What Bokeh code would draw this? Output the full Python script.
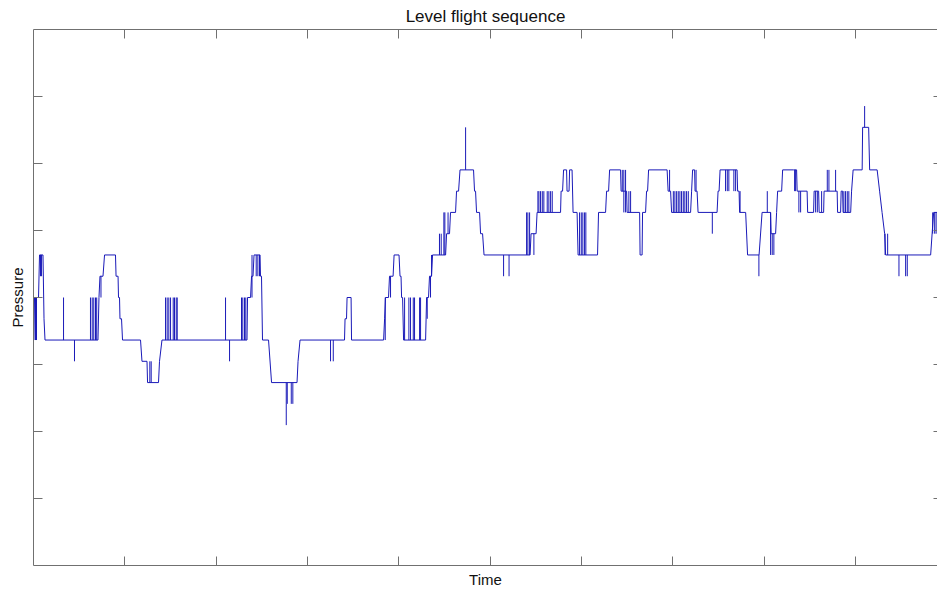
import numpy as np
from bokeh.plotting import figure
from bokeh.models import Range1d, LinearAxis, FixedTicker, CustomJSTickFormatter
from bokeh.embed import file_html
from bokeh.resources import INLINE

# ---------------- data ----------------
# Time axis: 0 .. 990 samples (ticks every 100); pressure in sensor counts
X_START, X_END = 0, 990
Y_START, Y_END = -10.6, 14.6

# main trace: breakpoints of the quantised pressure signal
time_path = [0, 1.1, 5.5, 6.6, 10.4, 11.5, 12.6, 70.6, 71.7, 72.8, 76.1, 77.8, 89.8, 90.4,
             92.6, 93.1, 94.2, 94.7, 96.4, 97.5, 117.2, 118.8, 124.3, 124.9, 136.9, 138.0,
             140.7, 233.8, 234.4, 237.7, 238.8, 240.4, 241.5, 248.1, 248.6, 249.7, 250.8,
             257.4, 260.7, 288.6, 289.7, 291.9, 340.6, 341.2, 342.8, 343.4, 347.8, 348.3,
             383.4, 384.5, 385.5, 388.8, 389.9, 393.8, 394.9, 400.3, 401.4, 402.5, 403.1,
             404.2, 405.3, 429.4, 430.5, 432.6, 433.7, 435.9, 437.0, 451.3, 452.4, 455.6,
             456.7, 462.2, 463.3, 465.5, 467.1, 481.9, 483.0, 484.1, 485.2, 488.5, 489.6,
             491.8, 493.4, 543.8, 544.9, 550.4, 551.5, 577.2, 577.8, 579.4, 580.5, 583.8,
             584.3, 586.5, 587.1, 589.8, 590.9, 595.3, 596.4, 617.7, 618.8, 626.5, 627.6,
             629.8, 630.9, 642.9, 643.5, 649.5, 650.1, 663.8, 664.3, 666.5, 667.0, 670.3,
             671.4, 672.5, 673.6, 693.9, 695.0, 697.7, 698.8, 719.6, 720.7, 721.8, 724.0,
             724.5, 726.7, 727.8, 748.6, 749.7, 750.8, 751.9, 770.5, 771.1, 772.7, 773.3,
             779.9, 782.0, 794.6, 797.9, 807.2, 807.8, 812.7, 813.8, 814.9, 819.3, 820.4,
             832.4, 835.7, 836.3, 847.2, 847.8, 854.3, 854.9, 859.8, 860.4, 865.3, 865.8,
             880.1, 880.6, 883.9, 884.5, 886.1, 886.6, 894.9, 895.9, 897.6, 907.5, 908.0,
             914.6, 915.7, 923.9, 926.6, 929.3, 932.1, 933.2, 982.5, 984.1, 985.8, 990.2]
pressure_path = [0, 2, 2, 4, 4, 1, 0, 0, 2, 3, 3, 4, 4, 3,
                 3, 2, 2, 1, 1, 0, 0, -1, -1, -2, -2, -1,
                 0, 0, 2, 2, 3, 3, 4, 4, 3, 3, 0,
                 0, -2, -2, -1, 0, 0, 1, 1, 2, 2, 0,
                 0, 1, 2, 2, 3, 3, 4, 4, 3, 3, 2,
                 2, 0, 0, 2, 2, 3, 3, 4, 4, 5, 5,
                 6, 6, 7, 7, 8, 8, 7, 7, 6, 6, 5,
                 5, 4, 4, 5, 5, 6, 6, 7, 7, 8, 8,
                 7, 7, 8, 8, 6, 6, 4, 4, 6, 6, 7,
                 7, 8, 8, 7, 7, 6, 6, 4, 4, 6, 6,
                 7, 7, 8, 8, 7, 7, 6, 6, 7, 8, 8,
                 7, 7, 6, 6, 7, 7, 8, 8, 7, 7, 6,
                 6, 4, 4, 6, 6, 5, 5, 6, 7, 7, 8,
                 8, 8, 7, 7, 6, 6, 7, 7, 6, 6, 7,
                 7, 6, 6, 7, 7, 6, 6, 7, 8, 8, 10,
                 10, 8, 8, 7, 6, 5, 4, 4, 5, 6, 6]

# single-sample noise spikes: time, lower level, upper level
spike_t = [0.5, 2.2, 3.3, 7.7, 8.8, 32.9, 44.9, 62.4, 64.3, 66.0, 67.9, 69.2, 73.9,
           127.4, 128.9, 144.6, 146.4, 148.2, 150.1, 153.0, 154.4, 156.3, 157.4,
           210.3, 214.7, 227.8, 229.2, 231.1, 232.5, 239.3, 243.9, 245.7, 247.5,
           276.8, 277.9, 282.3, 284.0, 325.3, 328.3, 385.2, 391.0,
           406.4, 411.1, 412.9, 415.9, 417.3, 422.8, 423.9, 431.2, 434.8, 435.9,
           444.6, 446.5, 449.4, 450.5, 454.0, 473.2, 514.8, 520.8,
           540.0, 541.4, 543.3, 548.0,
           552.4, 553.5, 555.3, 557.2, 558.9, 562.6, 564.4, 566.3, 568.1,
           598.0, 599.9, 601.6, 603.5, 604.9, 644.8, 646.5, 648.4, 652.0, 653.9, 696.6,
           700.7, 702.4, 704.3, 706.1, 707.9, 709.7, 711.6, 713.3, 715.2, 717.1,
           725.6, 743.4, 757.9, 759.8, 761.5, 767.0, 768.9, 773.8, 794.4,
           803.6, 807.2, 809.0, 810.8, 833.5, 834.6, 838.2, 840.1,
           856.5, 858.4, 863.1, 869.3, 871.1, 878.4, 887.5, 889.3, 891.2, 892.9,
           910.2, 932.6, 935.4, 947.8, 955.1, 956.9, 984.7, 986.9, 988.5]
spike_lo = [0, 0, 0, 3, 3, 0, -1, 0, 0, 0, 0, 0, 2,
            -2, -2, 0, 0, 0, 0, 0, 0, 0, 0,
            0, -1, 0, 0, 0, 0, 2, 3, 3, 3,
            -4, -3, -3, -3, -1, -1, 0, 2,
            0, 0, 0, 0, 0, 0, 0, 1, 2, 3,
            4, 4, 4, 4, 5, 8, 3, 3,
            4, 4, 4, 4,
            6, 6, 6, 6, 6, 6, 6, 6, 6,
            4, 4, 4, 4, 4, 7, 6, 6, 6, 6, 7,
            6, 6, 6, 6, 6, 6, 6, 6, 6, 6,
            7, 5, 7, 7, 7, 7, 7, 6, 3,
            6, 4, 4, 4, 7, 7, 6, 6,
            6, 6, 6, 7, 7, 7, 6, 6, 6, 6,
            10, 4, 4, 3, 3, 3, 5, 5, 5]
spike_hi = [2, 2, 2, 4, 4, 2, 0, 2, 2, 2, 2, 2, 3,
            -1, -1, 2, 2, 2, 2, 2, 2, 2, 2,
            2, 0, 2, 2, 2, 2, 4, 4, 4, 4,
            -2, -2, -2, -2, 0, 0, 2, 3,
            2, 2, 2, 2, 2, 2, 2, 2, 3, 4,
            5, 5, 6, 6, 6, 10, 4, 4,
            6, 6, 6, 5,
            7, 7, 7, 7, 7, 7, 7, 7, 7,
            6, 6, 6, 6, 6, 8, 8, 8, 7, 7, 8,
            7, 7, 7, 7, 7, 7, 7, 7, 7, 7,
            8, 6, 8, 8, 8, 8, 8, 7, 4,
            7, 6, 5, 5, 8, 8, 7, 7,
            7, 7, 7, 8, 8, 8, 7, 7, 7, 7,
            11, 5, 5, 4, 4, 4, 6, 6, 6]

assert len(time_path) == len(pressure_path)
assert len(spike_t) == len(spike_lo) == len(spike_hi)

x_ticks = list(range(100, 1000, 100))
y_ticks = list(np.linspace(Y_START, Y_END, 9)[1:-1])

AXIS_COL = "#707070"
LINE_COL = "#1a1ab8"
FONT = "Liberation Sans"

p = figure(width=937, height=594, output_backend="svg", toolbar_location=None,
           x_range=Range1d(X_START, X_END), y_range=Range1d(Y_START, Y_END),
           min_border_left=33, min_border_right=0, min_border_top=0, min_border_bottom=29,
           background_fill_color="white", border_fill_color="white")
p.outline_line_color = None
p.grid.visible = False

p.title.text = "Level flight sequence"
p.title.align = "center"
p.title.text_font = FONT
p.title.text_font_size = "17px"
p.title.text_font_style = "normal"
p.title.text_color = "#111111"
p.title.standoff = 8

empty = CustomJSTickFormatter(code="return ''")


def style_axis(ax, ticks, tick_len, line=True):
    ax.ticker = FixedTicker(ticks=ticks)
    ax.formatter = empty
    ax.major_tick_in = tick_len
    ax.major_tick_out = 0
    ax.minor_tick_in = 0
    ax.minor_tick_out = 0
    ax.major_label_text_font_size = "0px"
    ax.major_label_standoff = 0
    ax.major_tick_line_color = AXIS_COL
    ax.axis_line_color = AXIS_COL if line else None
    ax.axis_label_text_font = FONT
    ax.axis_label_text_font_size = "15px"
    ax.axis_label_text_font_style = "normal"
    ax.axis_label_text_color = "#111111"


style_axis(p.xaxis[0], x_ticks, 9)
style_axis(p.yaxis[0], y_ticks, 9)
p.xaxis[0].axis_label = "Time"
p.yaxis[0].axis_label = "Pressure"
p.xaxis[0].axis_label_standoff = 5
p.yaxis[0].axis_label_standoff = 8

top = LinearAxis()
style_axis(top, x_ticks, 9)
p.add_layout(top, "above")
right = LinearAxis()
style_axis(right, y_ticks, 4, line=False)
p.add_layout(right, "right")

p.line(time_path, pressure_path, line_color=LINE_COL, line_width=1)
p.segment(x0=spike_t, y0=spike_lo, x1=spike_t, y1=spike_hi, line_color=LINE_COL, line_width=1)

open("out.html", "w").write(file_html(p, INLINE))
